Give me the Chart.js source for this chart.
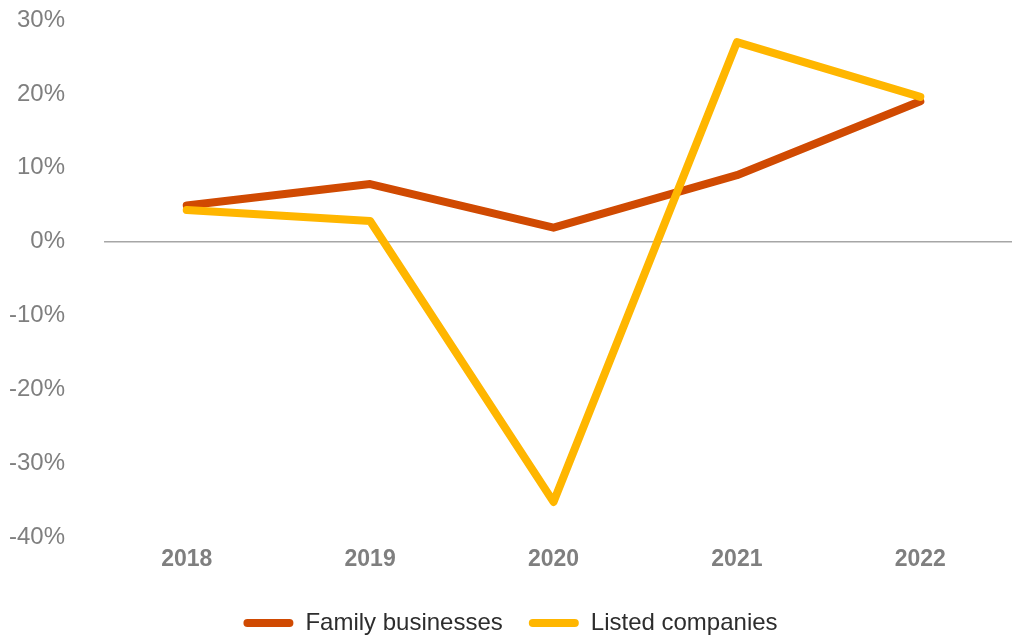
<!DOCTYPE html>
<html>
<head>
<meta charset="utf-8">
<script src="https://cdn.jsdelivr.net/npm/chart.js@4/dist/chart.umd.min.js"></script>
<style>
  html, body { margin: 0; padding: 0; background: #ffffff; }
  #wrap { width: 1013px; height: 640px; }
</style>
</head>
<body>
<div id="wrap"><canvas id="growthChart"></canvas></div>
<script>
// ── Revenue growth: family businesses vs listed companies ─────────────────────

const years       = ['2018', '2019', '2020', '2021', '2022'];
const familyVals  = [4.9, 7.8, 1.9, 9.0, 19.0];
const listedVals  = [4.3, 2.8, -35.2, 27.0, 19.6];
const yTicks      = [-40, -30, -20, -10, 0, 10, 20, 30];

const FONT       = "'Liberation Sans', Arial, Helvetica, sans-serif";
const TICK_GREY  = '#7f7f7f';
const ZERO_GREY  = '#a6a6a6';

function lineSet(label, data, color, order) {
  return {
    label,
    data,
    order,
    borderColor:     color,
    backgroundColor: color,
    borderWidth:     8,
    borderCapStyle:  'round',
    borderJoinStyle: 'round',
    pointRadius:     0,
    pointHoverRadius: 0,
    tension:         0,
    fill:            false,
  };
}

// legend swatches are flat rounded bars, no outline
function legendLabels(chart) {
  return Chart.defaults.plugins.legend.labels.generateLabels(chart)
    .map(item => ({ ...item, lineWidth: 0 }));
}

// thin baseline at 0%, inset a little from the left edge of the plot
const zeroLine = {
  id: 'zeroLine',
  beforeDatasetsDraw(chart) {
    const { ctx, chartArea, scales: { y } } = chart;
    const py = y.getPixelForValue(0);
    ctx.save();
    ctx.strokeStyle = ZERO_GREY;
    ctx.lineWidth   = 1.5;
    ctx.beginPath();
    ctx.moveTo(chartArea.left + 9, py);
    ctx.lineTo(chartArea.right, py);
    ctx.stroke();
    ctx.restore();
  },
};

new Chart(document.getElementById('growthChart'), {
  type: 'line',
  data: {
    labels: years,
    datasets: [
      lineSet('Family businesses', familyVals, '#d04a02', 2),
      lineSet('Listed companies',  listedVals, '#ffb600', 1),
    ],
  },
  options: {
    responsive: true,
    maintainAspectRatio: false,
    animation: false,
    layout: { padding: { left: 9, right: 1, top: 20, bottom: -5 } },
    plugins: {
      legend: {
        display:  true,
        position: 'bottom',
        labels: {
          generateLabels:  legendLabels,
          sort:            (a, b) => a.datasetIndex - b.datasetIndex,
          boxWidth:        50,
          boxHeight:       8,
          useBorderRadius: true,
          borderRadius:    4,
          padding:         26,
          color:           '#2d2d2d',
          font:            { family: FONT, size: 24 },
        },
      },
      tooltip: { enabled: false },
    },
    scales: {
      x: {
        offset: true,
        grid:   { display: false },
        border: { display: false },
        afterFit: s => { s.height += 12; },
        ticks:  {
          color:   TICK_GREY,
          padding: 0,
          font:    { family: FONT, size: 23, weight: 'bold' },
        },
      },
      y: {
        min: -40,
        max: 30,
        afterBuildTicks: axis => { axis.ticks = yTicks.map(v => ({ value: v })); },
        // keep the label gap on the plot side only
        afterFit: s => { s.width -= 30; s.paddingTop = 0; s.paddingBottom = 0; },
        border: { display: false },
        grid:   { display: false, drawTicks: false },
        ticks: {
          color:    TICK_GREY,
          padding:  30,
          font:     { family: FONT, size: 24 },
          callback: v => v + '%',
        },
      },
    },
  },
  plugins: [zeroLine],
});
</script>
</body>
</html>
